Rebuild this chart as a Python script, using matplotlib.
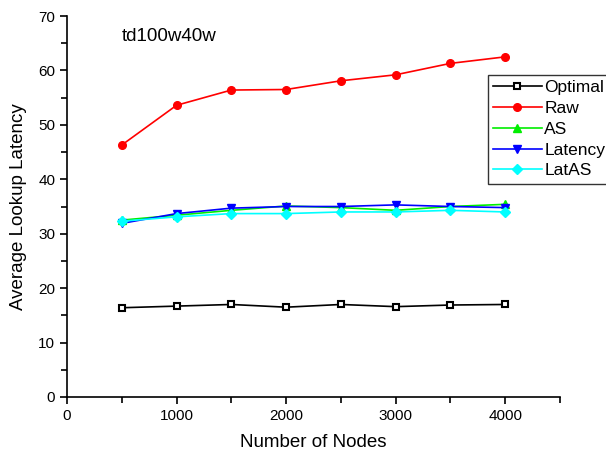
import matplotlib
matplotlib.use("Agg")
import matplotlib.pyplot as plt
from matplotlib.ticker import MultipleLocator

plt.rcParams['font.family'] = ['Liberation Sans', 'DejaVu Sans']

# dados
nodes = [500, 1000, 1500, 2000, 2500, 3000, 3500, 4000]
optimal = [16.4, 16.7, 17.0, 16.5, 17.0, 16.6, 16.9, 17.0]
raw = [46.3, 53.6, 56.4, 56.5, 58.1, 59.2, 61.3, 62.5]
as_lat = [32.5, 33.4, 34.3, 35.1, 34.8, 34.3, 35.0, 35.4]
latency = [31.9, 33.7, 34.7, 35.0, 35.0, 35.3, 35.0, 34.8]
latas = [32.3, 33.1, 33.7, 33.7, 34.0, 34.0, 34.3, 34.0]

fig = plt.figure(figsize=(6.06, 4.58), dpi=100)
ax = fig.add_axes([0.1106, 0.1332, 0.8134, 0.8318])

ax.plot(nodes, optimal, color='black', marker='s', ms=4, mfc='white',
        mec='black', mew=1.5, lw=1.2, label='Optimal')
ax.plot(nodes, raw, color='#ff0000', marker='o', ms=5.5, lw=1.2, label='Raw')
ax.plot(nodes, as_lat, color='#00ee00', marker='^', ms=6, lw=1.2, label='AS')
ax.plot(nodes, latency, color='#0000ff', marker='v', ms=6, lw=1.2, label='Latency')
ax.plot(nodes, latas, color='#00ffff', marker='D', ms=5, lw=1.2, label='LatAS')

ax.set_xlim(0, 4500)
ax.set_ylim(0, 70)
ax.xaxis.set_major_locator(MultipleLocator(1000))
ax.xaxis.set_minor_locator(MultipleLocator(500))
ax.yaxis.set_major_locator(MultipleLocator(10))
ax.yaxis.set_minor_locator(MultipleLocator(5))
ax.tick_params(which='both', direction='out', width=1.2, labelsize=11)
ax.tick_params(which='major', length=5)
ax.tick_params(which='minor', length=4)

for s in ['top', 'right']:
    ax.spines[s].set_visible(False)
for s in ['left', 'bottom']:
    ax.spines[s].set_linewidth(1.2)

ax.set_xlabel("Number of Nodes", fontsize=13.5, labelpad=8)
ax.set_ylabel("Average Lookup Latency", fontsize=13.5, labelpad=8)
ax.text(500, 65.5, "td100w40w", fontsize=13.5)

leg = fig.legend(loc='upper left', bbox_to_anchor=(0.805, 0.836), fontsize=12.5,
                 frameon=True, fancybox=False, edgecolor='black',
                 handlelength=2.8, handletextpad=0.15, labelspacing=0.32,
                 borderpad=0.3, borderaxespad=0)
leg.get_frame().set_linewidth(1.0)

plt.savefig("out.png", dpi=100)
